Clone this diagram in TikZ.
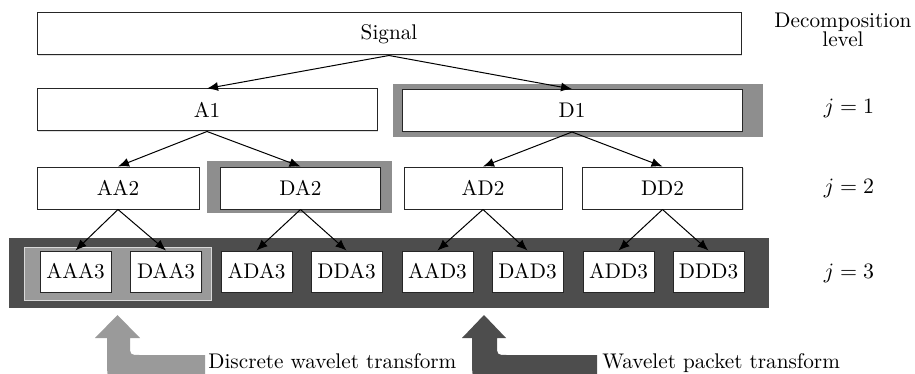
\documentclass[tikz,border=0pt]{standalone}
\usetikzlibrary{arrows.meta,shadows}
\definecolor{lgray}{HTML}{9A9A9A}
\definecolor{mgray}{HTML}{8E8E8E}
\definecolor{dgray}{HTML}{4D4D4D}
\begin{document}
\begin{tikzpicture}[x=0.5pt,y=-0.5pt,
  every node/.style={font=\fontsize{10.6pt}{10pt}\selectfont},
  box/.style={draw=black!85, fill=white, line width=0.5pt, inner sep=0pt,
    minimum height=21pt,
    drop shadow={shadow xshift=0.6pt,shadow yshift=-0.6pt,opacity=0.25}},
  lbox/.style={box, minimum width=35.5pt, minimum height=20.5pt},
  conn/.style={-{Latex[length=5.5pt,width=4.5pt]}, line width=0.5pt, black},
  lvl/.style={inner sep=0pt}]
\useasboundingbox (0,0) rectangle (915,374);

% backgrounds
\fill[mgray] (393,84) rectangle (763,137);
\fill[mgray] (207,161) rectangle (392,213);
\fill[dgray] (9,238) rectangle (769,308);
\filldraw[fill=lgray, draw=black!15, line width=0.5pt] (24,247) rectangle (211,300);

% nodes
\node[box, minimum width=352pt] (sig) at (389,34) {Signal};
\node[box, minimum width=170pt] (a1) at (207,110) {A1};
\node[box, minimum width=170pt] (d1) at (572,110.5) {D1};
\node[box, minimum width=81pt] (aa2) at (118,188) {AA2};
\node[box, minimum width=80pt] (da2) at (300.5,188) {DA2};
\node[box, minimum width=79pt] (ad2) at (483,188) {AD2};
\node[box, minimum width=80pt] (dd2) at (662.5,188) {DD2};
\node[lbox] (aaa3) at (75.5,271.5) {AAA3};
\node[lbox] (daa3) at (166,271.5) {DAA3};
\node[lbox] (ada3) at (256.5,271.5) {ADA3};
\node[lbox] (dda3) at (346.5,271.5) {DDA3};
\node[lbox] (aad3) at (437.5,271.5) {AAD3};
\node[lbox] (dad3) at (527.5,271.5) {DAD3};
\node[lbox] (add3) at (618.5,271.5) {ADD3};
\node[lbox] (ddd3) at (708.5,271.5) {DDD3};

% connectors
\draw[conn] (sig.south) -- (a1.north);
\draw[conn] (sig.south) -- (d1.north);
\draw[conn] (a1.south) -- (aa2.north);
\draw[conn] (a1.south) -- (da2.north);
\draw[conn] (d1.south) -- (ad2.north);
\draw[conn] (d1.south) -- (dd2.north);
\draw[conn] (aa2.south) -- (aaa3.north);
\draw[conn] (aa2.south) -- (daa3.north);
\draw[conn] (da2.south) -- (ada3.north);
\draw[conn] (da2.south) -- (dda3.north);
\draw[conn] (ad2.south) -- (aad3.north);
\draw[conn] (ad2.south) -- (dad3.north);
\draw[conn] (dd2.south) -- (add3.north);
\draw[conn] (dd2.south) -- (ddd3.north);

% level labels
\node[lvl, anchor=base] (dec) at (843,28) {Decomposition};
\node[lvl, anchor=base] (lev) at (843,47) {level};
\node[lvl] (j1) at (849,108) {$j=1$};
\node[lvl] (j2) at (849,188) {$j=2$};
\node[lvl] (j3) at (849,273) {$j=3$};

% big arrows
\begin{scope}
\clip (0,0) rectangle (915,374);
\fill[lgray] (117.5,315) -- (140,338) -- (130,338) -- (130,345)
  .. controls (130,355) .. (140,355) -- (205,355) -- (205,385) -- (135,385)
  .. controls (107,385) .. (107,357) -- (107,338) -- (95,338) -- cycle;
\fill[dgray] (484,315) -- (506,338) -- (497,338) -- (497,345)
  .. controls (497,355) .. (507,355) -- (597,355) -- (597,385) -- (502,385)
  .. controls (472,385) .. (472,357) -- (472,338) -- (462,338) -- cycle;
\end{scope}
\node[anchor=base west, inner sep=0pt] (dwt) at (208,368) {Discrete wavelet transform};
\node[anchor=base west, inner sep=0pt] (wpt) at (602,368) {Wavelet packet transform};
\end{tikzpicture}
\end{document}
